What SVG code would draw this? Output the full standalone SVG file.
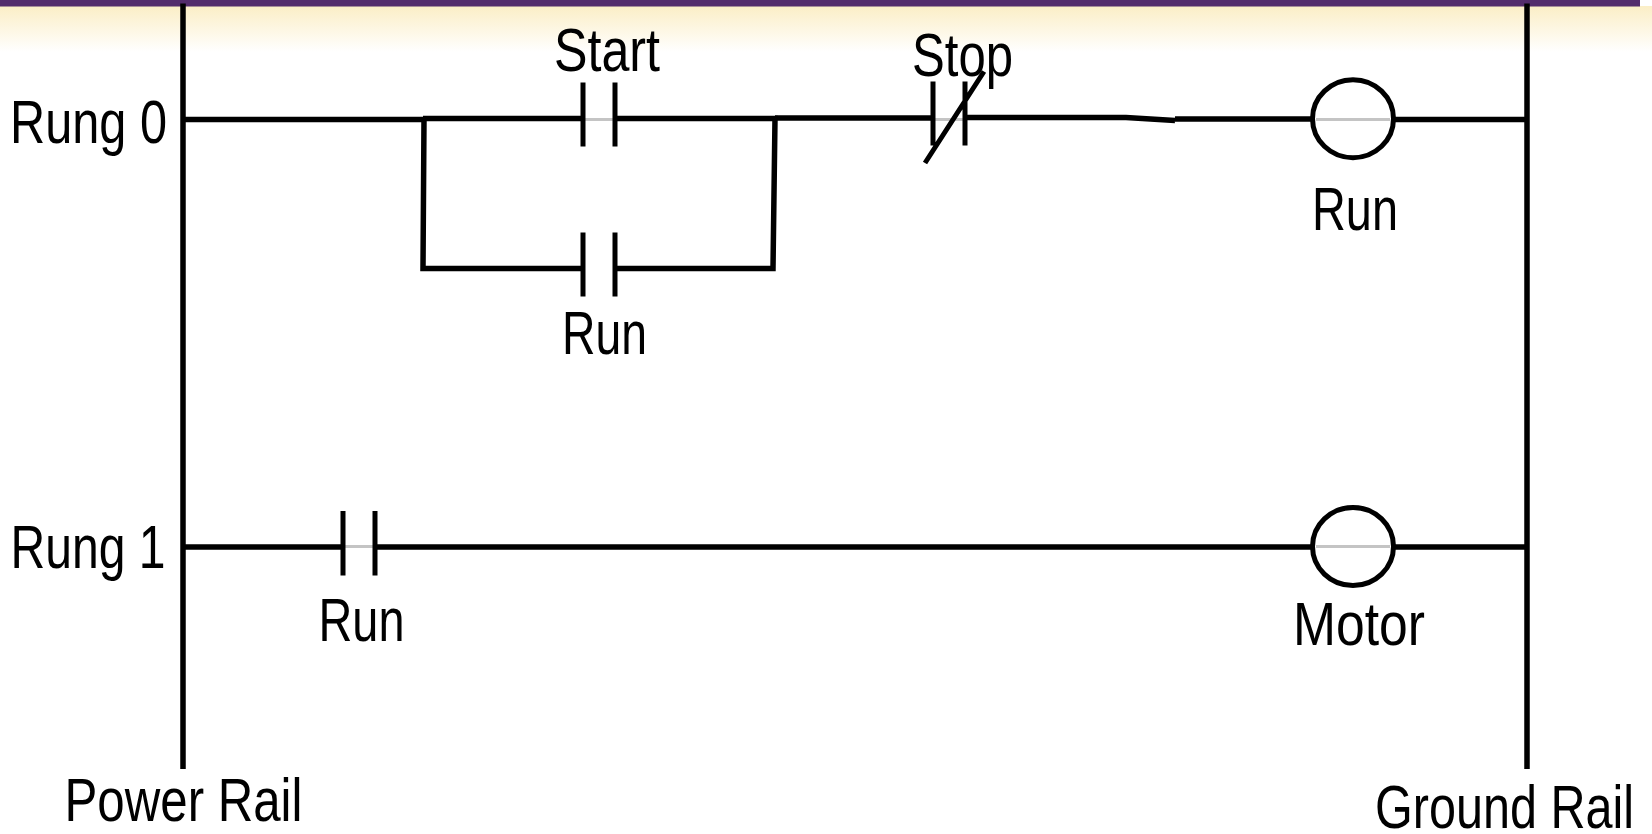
<svg xmlns="http://www.w3.org/2000/svg" width="1652" height="834" viewBox="0 0 1652 834">
<style>
.w{fill:none;stroke:#000;stroke-width:5.5}
.g{fill:none;stroke:#c4c4c4;stroke-width:3}
.c{fill:none;stroke:#000;stroke-width:5}
text{font-family:"Liberation Sans Narrow","Liberation Sans","Open Sans",sans-serif;font-size:62px;fill:#000}
</style>
<defs>
<linearGradient id="hdr" x1="0" y1="0" x2="0" y2="1"><stop offset="0" stop-color="#fbeec6"/><stop offset="1" stop-color="#ffffff"/></linearGradient>
</defs>
<rect width="1652" height="834" fill="#fff"/>
<g id="header">
<rect x="0" y="6" width="1652" height="46" fill="url(#hdr)"/>
<rect x="0" y="0" width="1640" height="6.5" fill="#532c6c"/>
</g>
<g id="connectors">
<path class="w" d="M183 3.5V769M1527 3.5V769"/>
<path class="w" d="M185 119.5H423M423 118.5H583M615 118.5H775L773 268.5H615M583 268.5H423L424 118.5"/>
<path class="w" d="M775 118H933M965 117.5H1126L1175 120.5M1175 119H1314M1392 119.5H1525"/>
<path class="w" d="M185 547H343M375 547H1314M1392 547H1525"/>
<path class="g" d="M585 119.5H613M935 119.5H963M1316 119.5H1390M345 546.5H373M1316 546.5H1390"/>
</g>
<g id="rail-power"><text x="64.5" y="820.5" textLength="238" lengthAdjust="spacingAndGlyphs">Power Rail</text></g>
<g id="rail-ground"><text x="1375" y="828" textLength="259" lengthAdjust="spacingAndGlyphs">Ground Rail</text></g>
<g id="rung0"><text x="10" y="142.5" textLength="157" lengthAdjust="spacingAndGlyphs">Rung 0</text></g>
<g id="rung1"><text x="10.5" y="568" textLength="155" lengthAdjust="spacingAndGlyphs">Rung 1</text></g>
<g id="contact-start"><path class="c" d="M583 82.5V146.5M615 82.5V146.5"/><text x="554" y="71" textLength="106" lengthAdjust="spacingAndGlyphs">Start</text></g>
<g id="contact-run0"><path class="c" d="M583 232.5V296.5M615 232.5V296.5"/><text x="562" y="354" textLength="85" lengthAdjust="spacingAndGlyphs">Run</text></g>
<g id="contact-stop"><path class="c" d="M933 81.5V145.5M965 81.5V145.5M925 163L984 71.5"/><text x="912" y="75.5" textLength="101" lengthAdjust="spacingAndGlyphs">Stop</text></g>
<g id="coil-run"><ellipse class="c" cx="1353" cy="118.7" rx="40.5" ry="39"/><text x="1312" y="230" textLength="86" lengthAdjust="spacingAndGlyphs">Run</text></g>
<g id="contact-run1"><path class="c" d="M343 511V575.5M375 511V575.5"/><text x="318.5" y="641" textLength="86" lengthAdjust="spacingAndGlyphs">Run</text></g>
<g id="coil-motor"><ellipse class="c" cx="1353" cy="546.5" rx="40.5" ry="39"/><text x="1293" y="645" textLength="132" lengthAdjust="spacingAndGlyphs">Motor</text></g>
</svg>
